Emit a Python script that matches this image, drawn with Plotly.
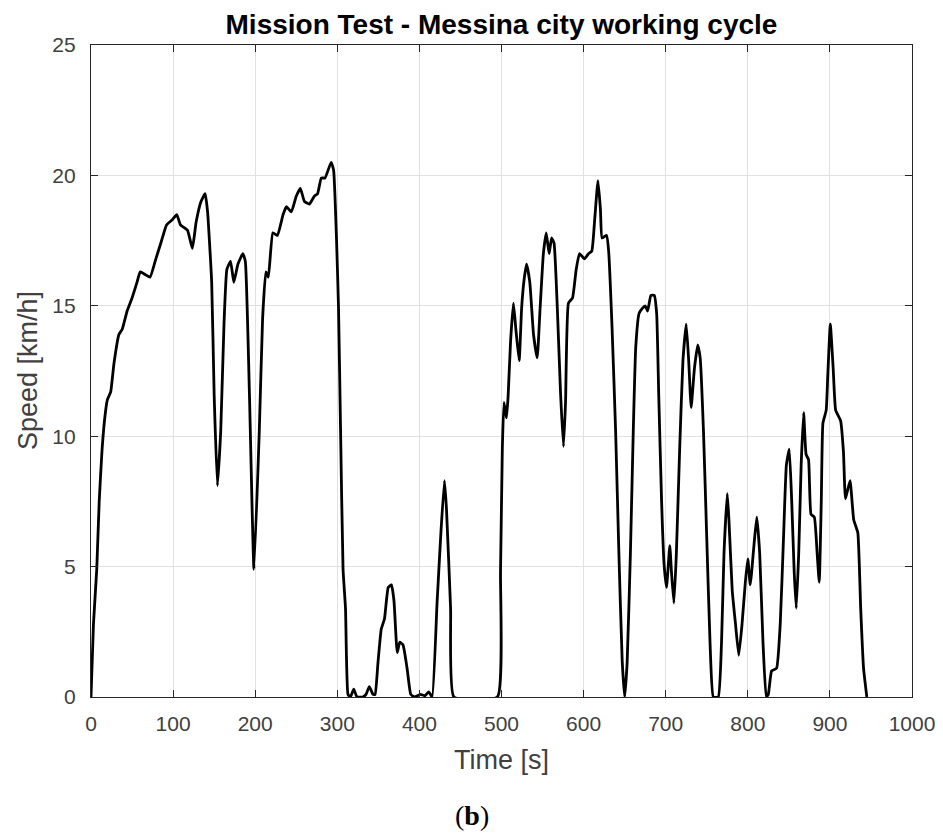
import plotly.graph_objects as go

time_s = [0, 3, 7, 10, 13.5, 17.5, 20, 24, 28, 34, 38, 44, 50, 56, 60, 66, 72, 79, 85, 92,
          99, 104.5, 109, 117.5, 123.5, 128, 134, 139, 142, 147, 150, 154, 158, 162, 165.5, 170,
          174, 179, 185, 188, 193, 198.5, 205, 209, 213, 216, 221.5, 227, 234, 238, 244, 250,
          255, 260, 266, 272, 276, 280.5, 285, 292.5, 295.5, 299, 301.5, 304, 307, 310, 313,
          316, 320, 324, 331, 335, 339, 343.5, 346, 349.5, 353.5, 357.5, 362, 366, 369, 373,
          376, 380, 385, 389.5, 394, 401, 407, 411.5, 415.5, 421.5, 426, 430.5, 433, 438, 442,
          495, 498.8, 501, 503, 506, 508, 511, 514.5, 517.5, 521.5, 524.5, 527.5, 530.5, 534.5,
          539, 543.5, 547, 551, 554.5, 558, 561, 564, 568, 572, 575.5, 578, 581.5, 586.5, 591,
          595, 601, 606, 610, 613.5, 617.5, 620.5, 622.5, 628, 630.5, 634.5, 639, 643, 647, 650,
          653, 657, 660.5, 663.5, 667.5, 671.5, 675, 678, 682, 686, 689, 691.5, 695, 698, 701,
          705, 707, 710, 713, 717, 721, 725, 728, 731, 735, 739, 742, 746, 750, 754, 758, 764,
          768, 771, 775, 777, 781, 785, 789, 793, 797, 800, 803, 808, 811, 814.5, 818.5, 822.5,
          825, 829, 835, 839.5, 843.5, 847, 850.5, 853.5, 856.5, 859, 862, 865, 868, 871, 874,
          877, 881, 884.5, 887, 889.5, 891.5, 895.5, 897.5, 900.5, 904, 907, 913, 916.5, 919,
          924.5, 929, 934, 937.5, 941, 945]
speed_kmh = [0, 2.8, 4.9, 7.5, 9.5, 10.9, 11.4, 11.7, 12.8, 13.9, 14.1, 14.8, 15.3, 15.9, 16.3,
             16.2, 16.1, 16.8, 17.4, 18.1, 18.3, 18.5, 18.1, 17.9, 17.2, 18.2, 19.0, 19.3, 18.6,
             15.9, 11.6, 8.1, 10.2, 14.3, 16.4, 16.7, 15.9, 16.6, 17.0, 16.7, 11.6, 4.9, 10.2,
             14.5, 16.3, 16.1, 17.8, 17.7, 18.5, 18.8, 18.6, 19.2, 19.5, 19.0, 18.9, 19.2, 19.3,
             19.9, 19.9, 20.5, 20.2, 17.6, 14.9, 10.2, 4.9, 3.4, 0.1, 0, 0.3, 0, 0, 0.1, 0.4, 0.1,
             0.1, 1.3, 2.6, 3.0, 4.2, 4.3, 3.7, 1.7, 2.1, 2.0, 1.1, 0.1, 0, 0.1, 0.05, 0.2, 0, 3.6,
             6.2, 8.3, 7.2, 3.4, 0, 0, 4.8, 9.5, 11.3, 10.7, 11.5, 13.6, 15.1, 14.1, 12.9, 14.9,
             16.0, 16.6, 15.9, 13.9, 13.0, 14.9, 17.0, 17.8, 17.0, 17.6, 17.4, 14.9, 11.6, 9.6,
             11.3, 15.1, 15.3, 16.4, 17.0, 16.8, 17.0, 17.1, 18.3, 19.8, 18.7, 17.6, 17.7, 17.1,
             14.3, 10.2, 5.5, 1.4, 0, 1.3, 5.5, 10.2, 13.4, 14.7, 14.9, 15.0, 14.8, 15.4, 15.4,
             14.7, 11.6, 7.5, 5.1, 4.2, 5.8, 4.8, 3.6, 5.5, 9.5, 12.9, 14.3, 12.9, 11.1, 12.6,
             13.5, 13.0, 10.2, 6.1, 2.1, 0, 0, 2.1, 5.5, 7.8, 6.8, 4.1, 2.8, 1.6, 2.8, 4.4, 5.3,
             4.3, 6.0, 6.9, 5.5, 2.1, 0, 0.1, 1.0, 1.1, 2.8, 6.1, 8.9, 9.5, 7.5, 4.8, 3.4, 5.5,
             8.9, 10.9, 9.3, 9.1, 7.0, 6.9, 5.5, 4.4, 7.5, 10.5, 11.0, 12.4, 14.3, 12.6, 11.0,
             10.6, 9.4, 7.6, 8.3, 6.8, 6.3, 3.4, 1.1, 0]

x_ticks = [0, 100, 200, 300, 400, 500, 600, 700, 800, 900, 1000]
y_ticks = [0, 5, 10, 15, 20, 25]

title_text = "Mission Test - Messina city working cycle"
x_title = "Time [s]"
y_title = "Speed [km/h]"
caption = "(<b>b</b>)"

font_family = "Liberation Sans, Arial, Helvetica, sans-serif"
axis_color = "#262626"
label_color = "#404040"
grid_color = "#e1e1e1"

# the page body adds an 8 px offset; figure coordinates below are page coordinates minus 8
OFF = 8
W, H = 943 - OFF, 839 - OFF
PLOT_LEFT, PLOT_RIGHT, PLOT_TOP, PLOT_BOTTOM = 91, 912, 45, 697  # page px
L, T = PLOT_LEFT - OFF, PLOT_TOP - OFF
R, B = W - (PLOT_RIGHT - OFF), H - (PLOT_BOTTOM - OFF)
PW, PH = W - L - R, H - T - B


def page_x_to_paper(px):
    return (px - PLOT_LEFT) / PW


def page_y_to_paper(py):
    return (PLOT_BOTTOM - py) / PH


fig = go.Figure()
fig.add_trace(go.Scatter(x=time_s, y=speed_kmh, mode="lines",
                         line=dict(color="black", width=2.8, shape="spline", smoothing=0.4),
                         showlegend=False))

axis_common = dict(
    showline=True, linecolor=axis_color, linewidth=1.3, mirror="ticks",
    ticks="inside", ticklen=7, tickwidth=1, tickcolor=axis_color,
    showgrid=True, gridcolor=grid_color, gridwidth=1, zeroline=False,
    automargin=False,
    tickfont=dict(family=font_family, size=21, color=label_color),
)

fig.update_layout(
    width=W, height=H,
    margin=dict(l=L, r=R, t=T, b=B, autoexpand=False),
    paper_bgcolor="white", plot_bgcolor="white",
    title=dict(text="<b>" + title_text + "</b>", xref="paper", x=0.5, xanchor="center",
               y=1 - (24 - OFF) / H, yanchor="middle",
               font=dict(family=font_family, size=28, color="black")),
    xaxis=dict(range=[0, 1000], tickvals=x_ticks, ticktext=[str(v) for v in x_ticks],
               ticklabelstandoff=8, **axis_common),
    yaxis=dict(range=[0, 25], tickvals=y_ticks, ticktext=[str(v) for v in y_ticks],
               ticklabelstandoff=10, **axis_common),
)

fig.add_annotation(text=x_title, xref="paper", yref="paper", x=0.5, y=page_y_to_paper(760),
                   xanchor="center", yanchor="middle", showarrow=False,
                   font=dict(family=font_family, size=27, color=label_color))
fig.add_annotation(text=y_title, xref="paper", yref="paper", x=page_x_to_paper(28), y=0.5,
                   xanchor="center", yanchor="middle", showarrow=False, textangle=-90,
                   font=dict(family=font_family, size=27, color=label_color))
fig.add_annotation(text=caption, xref="paper", yref="paper", x=page_x_to_paper(472),
                   y=page_y_to_paper(815),
                   xanchor="center", yanchor="middle", showarrow=False,
                   font=dict(family="Liberation Serif, DejaVu Serif, serif", size=28, color="black"))

fig.write_html("out.html")
